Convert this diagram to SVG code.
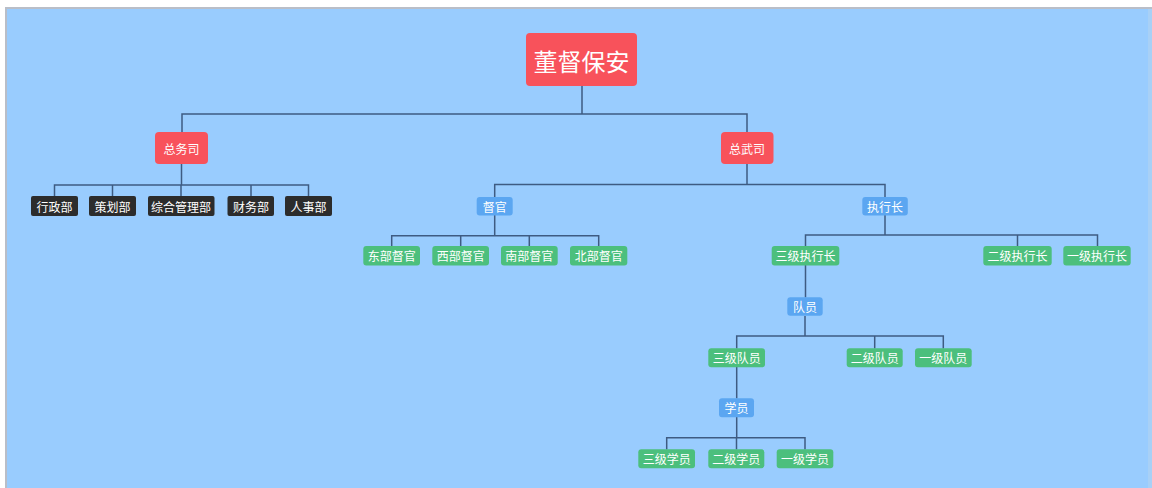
<svg xmlns="http://www.w3.org/2000/svg" width="1152" height="488" viewBox="0 0 1152 488">
<style>
.t{font-family:"Noto Sans CJK SC","Noto Sans",sans-serif;fill:#fff;font-size:12px;text-anchor:middle;dominant-baseline:central}
.red{fill:#f8525b}
.blue{fill:#5ba6f1}
.green{fill:#4cbf7d}
.dark{fill:#2c2c2c}
.c{fill:none;stroke:#3e5b82;stroke-width:1.5}
</style>
<rect x="0" y="0" width="1152" height="488" fill="#ffffff"/>
<rect x="5" y="7" width="1147" height="481" fill="#b9bec8"/>
<rect x="7" y="9" width="1141" height="479" fill="#99ccfe"/>
<rect x="1148" y="9" width="4" height="479" fill="#a8d0f6"/>
<g id="connectors">
<path class="c" d="M582 86V114M182 132V114H747V132"/>
<path class="c" d="M181.5 164V185M54.5 196V185H308.5V196M112.5 185V196M181 185V196M251 185V196"/>
<path class="c" d="M747 164V184.5M494.7 197V184.5H885V197"/>
<path class="c" d="M494.7 215V235.7M391.7 246V235.7H598.7V246M460.7 235.7V246M529.3 235.7V246"/>
<path class="c" d="M885 215V235M805.5 246V235H1097.5V246M1017.5 235V246"/>
<path class="c" d="M805.5 265V297.5"/>
<path class="c" d="M805 316V336M736.7 348.5V336H943.3V348.5M874.7 336V348.5"/>
<path class="c" d="M736.7 367V398.5"/>
<path class="c" d="M736.7 417V437.7M666.7 449.5V437.7H805V449.5M736.5 437.7V449.5"/>
</g>
<g id="n-root"><rect class="red" x="526" y="33" width="111" height="53" rx="4"/><text class="t" x="581.5" y="60" style="font-size:24px">董督保安</text></g>
<g id="n-zws"><rect class="red" x="155" y="132" width="53" height="32" rx="4"/><text class="t" x="181.5" y="148">总务司</text></g>
<g id="n-zwus"><rect class="red" x="721" y="132" width="52.5" height="32" rx="4"/><text class="t" x="747" y="148">总武司</text></g>
<g id="n-xzb"><rect class="dark" x="31" y="196" width="47" height="20" rx="2"/><text class="t" x="54.5" y="206">行政部</text></g>
<g id="n-chb"><rect class="dark" x="89" y="196" width="47" height="20" rx="2"/><text class="t" x="112.5" y="206">策划部</text></g>
<g id="n-zhglb"><rect class="dark" x="148" y="196" width="66.5" height="20" rx="2"/><text class="t" x="181" y="206">综合管理部</text></g>
<g id="n-cwb"><rect class="dark" x="227.5" y="196" width="46.5" height="20" rx="2"/><text class="t" x="251" y="206">财务部</text></g>
<g id="n-rsb"><rect class="dark" x="285" y="196" width="47" height="20" rx="2"/><text class="t" x="308.5" y="206">人事部</text></g>
<g id="n-dg"><rect class="blue" x="476.7" y="197" width="36" height="18.5" rx="3"/><text class="t" x="494.7" y="206.2">督官</text></g>
<g id="n-zxz"><rect class="blue" x="862.3" y="197" width="45.5" height="18.5" rx="3"/><text class="t" x="885" y="206.2">执行长</text></g>
<g id="n-dbdg"><rect class="green" x="363.3" y="246" width="56.7" height="19.5" rx="3"/><text class="t" x="391.7" y="255.8">东部督官</text></g>
<g id="n-xbdg"><rect class="green" x="432.3" y="246" width="56.7" height="19.5" rx="3"/><text class="t" x="460.7" y="255.8">西部督官</text></g>
<g id="n-nbdg"><rect class="green" x="501" y="246" width="56.7" height="19.5" rx="3"/><text class="t" x="529.3" y="255.8">南部督官</text></g>
<g id="n-bbdg"><rect class="green" x="570" y="246" width="57.3" height="19.5" rx="3"/><text class="t" x="598.7" y="255.8">北部督官</text></g>
<g id="n-3zxz"><rect class="green" x="771.7" y="246" width="67.6" height="19.5" rx="3"/><text class="t" x="805.5" y="255.8">三级执行长</text></g>
<g id="n-2zxz"><rect class="green" x="983.3" y="246" width="68.4" height="19.5" rx="3"/><text class="t" x="1017.5" y="255.8">二级执行长</text></g>
<g id="n-1zxz"><rect class="green" x="1063.3" y="246" width="67.4" height="19.5" rx="3"/><text class="t" x="1097" y="255.8">一级执行长</text></g>
<g id="n-dy"><rect class="blue" x="787.3" y="297.3" width="35.4" height="18.5" rx="3"/><text class="t" x="805" y="306.5">队员</text></g>
<g id="n-3dy"><rect class="green" x="708.3" y="348.3" width="56.7" height="19" rx="3"/><text class="t" x="736.7" y="357.8">三级队员</text></g>
<g id="n-2dy"><rect class="green" x="846.7" y="348.3" width="56" height="19" rx="3"/><text class="t" x="874.7" y="357.8">二级队员</text></g>
<g id="n-1dy"><rect class="green" x="915" y="348.3" width="56.7" height="19" rx="3"/><text class="t" x="943.3" y="357.8">一级队员</text></g>
<g id="n-xy"><rect class="blue" x="719" y="398.3" width="35" height="19" rx="3"/><text class="t" x="736.5" y="407.8">学员</text></g>
<g id="n-3xy"><rect class="green" x="638.3" y="449.3" width="56.7" height="19" rx="3"/><text class="t" x="666.7" y="458.8">三级学员</text></g>
<g id="n-2xy"><rect class="green" x="708.3" y="449.3" width="56" height="19" rx="3"/><text class="t" x="736.3" y="458.8">二级学员</text></g>
<g id="n-1xy"><rect class="green" x="776.7" y="449.3" width="56.6" height="19" rx="3"/><text class="t" x="805" y="458.8">一级学员</text></g>
</svg>
